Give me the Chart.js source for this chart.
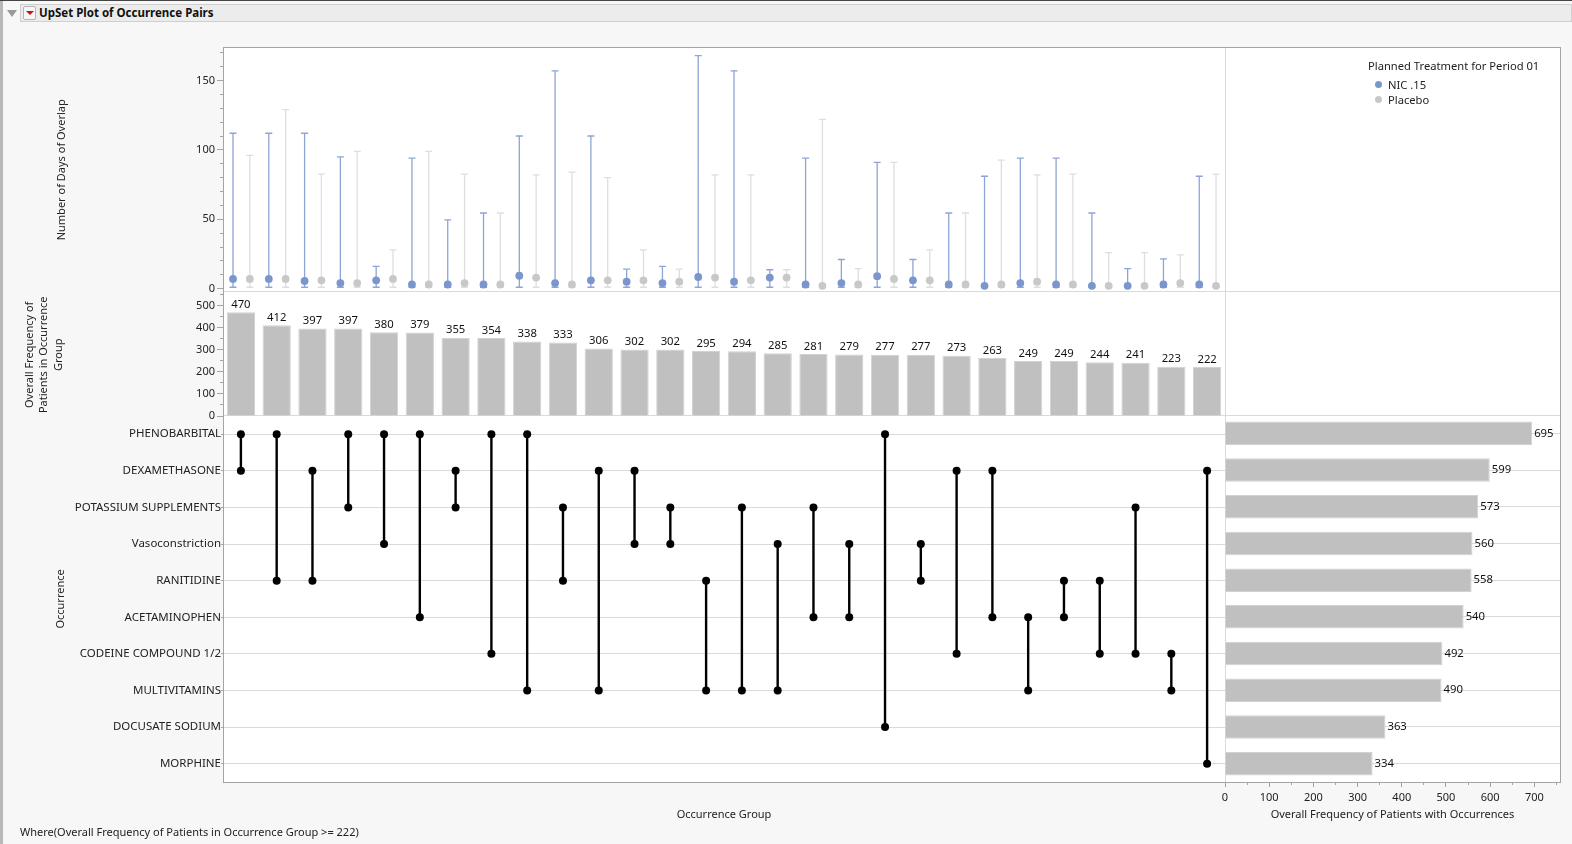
<!DOCTYPE html>
<html>
<head>
<meta charset="utf-8">
<title>UpSet Plot of Occurrence Pairs</title>
<script src="https://cdn.jsdelivr.net/npm/chart.js@4.4.1/dist/chart.umd.min.js"></script>
<style>
  body { margin: 0; width: 1572px; height: 844px; background: #f7f7f7; font-family: 'Noto Sans', sans-serif; font-size: 11px; color: #222; overflow: hidden; position: relative; }
  canvas, .abs { position: absolute; }
  #topline { left: 0; top: 0; width: 1572px; height: 1px; background: #444; }
  #leftstrip { left: 0; top: 1px; width: 3px; height: 843px; background: #b8b8b8; }
  #header { left: 20px; top: 4px; width: 1552px; height: 18px; background: #ececec; border: 1px solid #cfcfcf; box-sizing: border-box; }
  #disclose { left: 7px; top: 10px; width: 0; height: 0; border-left: 5px solid transparent; border-right: 5px solid transparent; border-top: 7px solid #9a9a9a; }
  #redbtn { left: 23px; top: 6px; width: 13px; height: 14px; background: #f6f6f6; border: 1px solid #b5b5b5; box-sizing: border-box; border-radius: 2px; }
  #redbtn div { position: absolute; left: 2px; top: 4px; width: 0; height: 0; border-left: 4px solid transparent; border-right: 4px solid transparent; border-top: 4px solid #cc1010; }
  #title { left: 39px; top: 5px; font-weight: bold; font-size: 11.5px; line-height: 16px; color: #111; }
  #panelbg { left: 223px; top: 47px; width: 1337px; height: 735px; background: #fff; }
  #frame { left: 223px; top: 47px; width: 1338px; height: 736px; border: 1px solid #a4a4a4; box-sizing: border-box; pointer-events: none; }
  .hline { height: 1px; background: #dadada; }
  .vline { width: 1px; background: #dadada; }
  #legend { left: 1368px; top: 58px; line-height: 15px; font-size: 11.2px; }
  #legend .head { margin-bottom: 4px; }
  #legend .item { position: relative; padding-left: 20px; }
  #legend .dot { position: absolute; left: 7px; top: 4px; width: 7px; height: 7px; border-radius: 50%; }
  #note { left: 20px; top: 824px; line-height: 16px; }
</style>
</head>
<body>
<div id="topline" class="abs"></div>
<div id="leftstrip" class="abs"></div>
<div id="header" class="abs"></div>
<div id="disclose" class="abs"></div>
<div id="redbtn" class="abs"><div></div></div>
<div id="title" class="abs">UpSet Plot of Occurrence Pairs</div>
<div id="panelbg" class="abs"></div>
<div class="abs hline" style="left:223px;top:291px;width:1337px"></div>
<div class="abs hline" style="left:223px;top:415px;width:1337px"></div>
<div class="abs vline" style="left:1225px;top:47px;height:735px"></div>

<canvas id="chartDays" width="1182" height="261" style="left:51px;top:40px"></canvas>
<canvas id="chartGroup" width="1215" height="141" style="left:18px;top:285px"></canvas>
<canvas id="chartMatrix" width="1183" height="416" style="left:50px;top:409px"></canvas>
<canvas id="chartTotals" width="351" height="416" style="left:1217px;top:409px"></canvas>

<div id="frame" class="abs"></div>
<div id="legend" class="abs"><div class="head">Planned Treatment for Period 01</div></div>
<div id="note" class="abs">Where(Overall Frequency of Patients in Occurrence Group &gt;= 222)</div>

<script>
// occurrences (matrix rows, top to bottom)
var rowNames = ["PHENOBARBITAL", "DEXAMETHASONE", "POTASSIUM SUPPLEMENTS", "Vasoconstriction", "RANITIDINE",
    "ACETAMINOPHEN", "CODEINE COMPOUND 1/2", "MULTIVITAMINS", "DOCUSATE SODIUM", "MORPHINE"];
var rowTotals = [695, 599, 573, 560, 558, 540, 492, 490, 363, 334];

// occurrence groups (pairs of row indexes), left to right
var pairRows = [[0, 1], [0, 4], [1, 4], [0, 2], [0, 3], [0, 5], [1, 2], [0, 6], [0, 7], [2, 4],
    [1, 7], [1, 3], [2, 3], [4, 7], [2, 7], [3, 7], [2, 5], [3, 5], [0, 8], [3, 4],
    [1, 6], [1, 5], [5, 7], [4, 5], [4, 6], [2, 6], [6, 7], [1, 9]];
var groupCounts = [470, 412, 397, 397, 380, 379, 355, 354, 338, 333, 306, 302, 302, 295,
    294, 285, 281, 279, 277, 277, 273, 263, 249, 249, 244, 241, 223, 222];

// days of overlap by treatment: mean, low and high
var nicMean = [7, 7, 5.5, 4, 6, 3, 3, 3, 9.3, 4, 6, 5, 4, 8.4, 5, 8, 3, 4, 9, 6, 3, 2, 4, 3, 2, 2, 3, 3];
var nicLow = [1, 1, 1, 1, 1, 1, 1, 1, 1, 1, 1, 1, 1, 1, 1, 1, 1, 1, 1, 1, 1, 1, 1, 1, 1, 1, 1, 1];
var nicHigh = [112, 112, 112, 95, 16, 94, 49.5, 54.5, 110, 157, 110, 14, 16, 168, 157, 13.6, 94, 21, 91, 21,
    54.5, 81, 94, 94, 54.5, 14.4, 21.5, 81];
var placeboMean = [7, 7, 6, 4, 7, 3, 4, 3, 8, 3, 6, 6, 5, 8, 6, 8, 2, 3, 7, 6, 3, 3, 5, 3, 2, 2, 4, 2];
var placeboLow = [1, 1, 1, 1, 1, 1, 1, 1, 1, 1, 1, 1, 1, 1, 1, 1, 1, 1, 1, 1, 1, 1, 1, 1, 1, 1, 1, 1];
var placeboHigh = [96, 129, 82.5, 99, 28, 99, 82.5, 54.5, 82, 84, 80, 28, 14, 82, 82, 13.6, 122, 14.4, 91, 28,
    54.5, 92.6, 82, 82.5, 26, 26, 24.4, 82.5];

// axis ticks
var dayTicks = [0, 10, 20, 30, 40, 50, 60, 70, 80, 90, 100, 110, 120, 130, 140, 150, 160, 170];
var groupTicks = [0, 50, 100, 150, 200, 250, 300, 350, 400, 450, 500, 550];
var totalTicks = [0, 50, 100, 150, 200, 250, 300, 350, 400, 450, 500, 550, 600, 650, 700, 750];

var NIC_COLOR = "#7b96cc";
var NIC_BAR = "#8ea4d4";
var PLACEBO_COLOR = "#c8c8c8";
var PLACEBO_BAR = "#dedede";
var AXIS_COLOR = "#a4a4a4";

Chart.defaults.font.family = "'Noto Sans', sans-serif";
Chart.defaults.font.size = 11;
Chart.defaults.color = "#222";
Chart.defaults.animation = false;
Chart.defaults.plugins.legend.display = false;
Chart.defaults.plugins.tooltip.enabled = false;

function setTicks(values) {
    return function (scale) {
        scale.ticks = values.map(function (v) { return { value: v }; });
    };
}

function fixWidth(w) {
    return function (scale) { scale.width = w; };
}

function fixHeight(h) {
    return function (scale) { scale.height = h; };
}

// short minor ticks: only the part next to the axis line is drawn
function minorDash(major, offset) {
    return {
        tickBorderDash: function (ctx) { return ctx.tick && ctx.tick.value % major ? [3, 3] : []; },
        tickBorderDashOffset: function (ctx) { return ctx.tick && ctx.tick.value % major ? offset : 0; }
    };
}

function labelEvery(major) {
    return function (value) { return value % major === 0 ? String(value) : ""; };
}

var barValueLabels = {
    id: "barValueLabels",
    afterDatasetsDraw: function (chart) {
        var ctx = chart.ctx;
        var horizontal = chart.options.indexAxis === "y";
        var values = chart.data.datasets[0].data;
        ctx.save();
        ctx.font = "11.3px 'Noto Sans'";
        ctx.fillStyle = "#111";
        chart.getDatasetMeta(0).data.forEach(function (bar, i) {
            if (horizontal) {
                ctx.textAlign = "left";
                ctx.textBaseline = "middle";
                ctx.fillText(values[i], bar.x + 2, bar.y);
            } else {
                ctx.textAlign = "center";
                ctx.textBaseline = "bottom";
                ctx.fillText(values[i], bar.x, bar.y - 2);
            }
        });
        ctx.restore();
    }
};

function errorBarPoints(offset, low, high) {
    var pts = [];
    low.forEach(function (lo, i) {
        pts.push({ x: i + offset, y: lo }, { x: i + offset, y: high[i] }, { x: i + offset, y: null });
    });
    return pts;
}

function meanPoints(offset, mean) {
    return mean.map(function (m, i) { return { x: i + offset, y: m }; });
}

var groupNames = pairRows.map(function (p) { return rowNames[p[0]] + " & " + rowNames[p[1]]; });

// top panel: days of overlap
var daysChart = new Chart(document.getElementById("chartDays"), {
    type: "scatter",
    data: {
        datasets: [
            { label: "NIC .15", data: meanPoints(-0.22, nicMean), backgroundColor: NIC_COLOR, borderWidth: 0, pointRadius: 3.9, order: 1 },
            { label: "Placebo", data: meanPoints(0.25, placeboMean), backgroundColor: PLACEBO_COLOR, borderWidth: 0, pointRadius: 3.9, order: 2 },
            { type: "line", label: "NIC .15 range", data: errorBarPoints(-0.22, nicLow, nicHigh), showLine: true,
              borderColor: NIC_BAR, borderWidth: 1.3, pointStyle: "line", pointRadius: 3.5, pointBorderWidth: 1.3,
              pointBorderColor: NIC_BAR, order: 3 },
            { type: "line", label: "Placebo range", data: errorBarPoints(0.25, placeboLow, placeboHigh), showLine: true,
              borderColor: PLACEBO_BAR, borderWidth: 1.3, pointStyle: "line", pointRadius: 3.5, pointBorderWidth: 1.3,
              pointBorderColor: PLACEBO_BAR, order: 4 }
        ]
    },
    options: {
        responsive: false,
        layout: { padding: { top: 7, right: 8, bottom: 10, left: 0 } },
        scales: {
            x: { type: "linear", min: -0.5, max: 27.5, display: false },
            y: {
                min: -1.7, max: 173,
                afterBuildTicks: setTicks(dayTicks),
                afterFit: fixWidth(172),
                border: { display: false },
                grid: Object.assign({ drawOnChartArea: false, tickLength: 6, color: AXIS_COLOR }, minorDash(50, 3)),
                ticks: { autoSkip: false, padding: 2, callback: labelEvery(50) },
                title: { display: true, text: "Number of Days of Overlap", padding: { top: 4, bottom: 4 } }
            }
        }
    }
});

// count bars
new Chart(document.getElementById("chartGroup"), {
    type: "bar",
    data: {
        labels: groupNames,
        datasets: [{ data: groupCounts, backgroundColor: "#c0c0c0", borderColor: "#d2d2d2", borderWidth: 1,
            barPercentage: 0.79, categoryPercentage: 1 }]
    },
    options: {
        responsive: false,
        layout: { padding: { top: 6, right: 8, bottom: 10, left: 0 } },
        scales: {
            x: { display: false },
            y: {
                min: 0, max: 555,
                afterBuildTicks: setTicks(groupTicks),
                afterFit: fixWidth(205),
                border: { display: false },
                grid: Object.assign({ drawOnChartArea: false, tickLength: 6, color: AXIS_COLOR }, minorDash(100, 3)),
                ticks: { autoSkip: false, padding: 2, callback: labelEvery(100) },
                title: { display: true, text: ["Overall Frequency of", "Patients in Occurrence", "Group"],
                    padding: { top: 4, bottom: 4 }, font: { lineHeight: 1.35 } }
            }
        }
    },
    plugins: [barValueLabels]
});

// matrix of pairs
var matrixPoints = [];
pairRows.forEach(function (p, i) {
    matrixPoints.push({ x: i, y: p[0] }, { x: i, y: p[1] }, { x: i, y: null });
});

new Chart(document.getElementById("chartMatrix"), {
    type: "scatter",
    data: {
        datasets: [{ type: "line", data: matrixPoints, showLine: true, borderColor: "#000", borderWidth: 2.4,
            pointRadius: 4, pointBackgroundColor: "#000", pointBorderWidth: 0 }]
    },
    options: {
        responsive: false,
        layout: { padding: { top: 6, right: 8, bottom: 0, left: 0 } },
        scales: {
            x: {
                type: "linear", min: -0.5, max: 27.5,
                afterFit: fixHeight(43),
                border: { display: false },
                grid: { display: false },
                ticks: { display: false },
                title: { display: true, text: "Occurrence Group", padding: { top: 4, bottom: 4 } }
            },
            y: {
                type: "linear", reverse: true, min: -0.5, max: 9.5,
                afterBuildTicks: setTicks([0, 1, 2, 3, 4, 5, 6, 7, 8, 9]),
                afterFit: fixWidth(173),
                border: { display: false },
                grid: { color: "#dadada", tickColor: AXIS_COLOR, tickLength: 2 },
                ticks: { autoSkip: false, padding: 0, font: { size: 11.5 }, callback: function (v) { return rowNames[v]; } },
                title: { display: true, text: "Occurrence", padding: { top: 4, bottom: 4 } }
            }
        }
    }
});

// totals per occurrence
new Chart(document.getElementById("chartTotals"), {
    type: "bar",
    data: {
        labels: rowNames,
        datasets: [{ data: rowTotals, backgroundColor: "#c0c0c0", borderColor: "#d2d2d2", borderWidth: 1,
            barPercentage: 0.64, categoryPercentage: 1 }]
    },
    options: {
        responsive: false,
        indexAxis: "y",
        layout: { padding: { top: 6, right: 8, bottom: 0, left: 8 } },
        scales: {
            y: {
                afterFit: fixWidth(0),
                border: { display: false },
                grid: { offset: false, color: "#dadada", drawTicks: false },
                ticks: { display: false }
            },
            x: {
                min: 0, max: 758,
                afterBuildTicks: setTicks(totalTicks),
                afterFit: fixHeight(43),
                border: { display: false },
                grid: Object.assign({ drawOnChartArea: false, tickLength: 5, color: AXIS_COLOR }, minorDash(100, 0)),
                ticks: { autoSkip: false, maxRotation: 0, padding: 4, callback: labelEvery(100) },
                title: { display: true, text: "Overall Frequency of Patients with Occurrences", padding: { top: 2, bottom: 4 } }
            }
        }
    },
    plugins: [barValueLabels]
});

// legend built from the treatment datasets
var legend = document.getElementById("legend");
daysChart.data.datasets.slice(0, 2).forEach(function (ds) {
    var item = document.createElement("div");
    item.className = "item";
    item.innerHTML = '<span class="dot" style="background:' + ds.backgroundColor + '"></span>' + ds.label;
    legend.appendChild(item);
});
</script>
</body>
</html>
